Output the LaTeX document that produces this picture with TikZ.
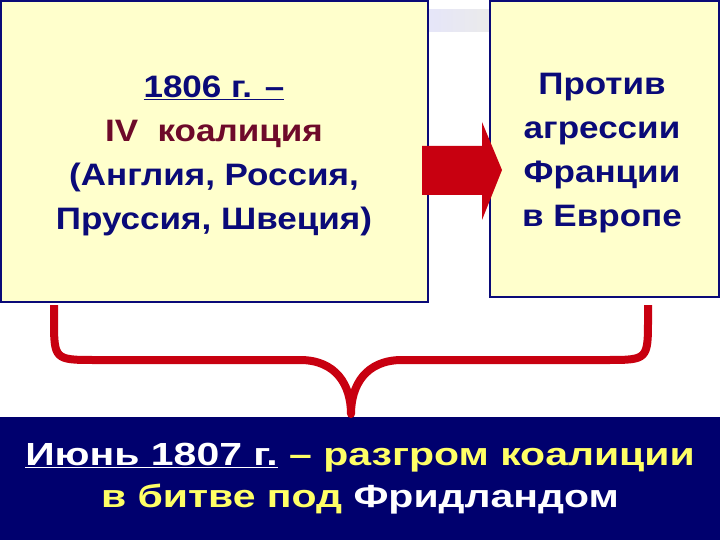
\documentclass[tikz,border=0pt]{standalone}
\usepackage{fontspec}
\setmainfont{Liberation Sans}
\newfontfamily\boxfont[FakeStretch=1.13]{Liberation Sans}
\newfontfamily\bandfont[FakeStretch=1.28]{Liberation Sans}
\definecolor{boxfill}{HTML}{FFFFCC}
\definecolor{navy}{HTML}{0A0A78}
\definecolor{maroon}{HTML}{6E0A2A}
\definecolor{bandblue}{HTML}{00006E}
\definecolor{brred}{HTML}{C80010}
\definecolor{yel}{HTML}{FFFF66}
\tikzset{
  panel/.style={draw=navy, line width=1.6pt, fill=boxfill},
  boxtext/.style={align=center, text=navy, font=\boxfont\bfseries\fontsize{31}{44}\selectfont, inner sep=0pt},
  bandtext/.style={align=center, font=\bandfont\bfseries\fontsize{32}{42}\selectfont, inner sep=0pt},
}
\begin{document}
\begin{tikzpicture}[x=1pt,y=-1pt]
\useasboundingbox (0,0) rectangle (720,540);
\fill[white] (0,0) rectangle (720,540);
% gray bar
\shade[left color=black!25!blue!10, right color=black!8] (429,10) rectangle (489,32);
% boxes
\draw[panel] (1,1) rectangle (428,302);
\draw[panel] (490,1) rectangle (719,297);
\node[boxtext] (ltext) at (214,156) {\underline{1806 г. –}\\{\color{maroon}IV\ \ коалиция}\\(Англия, Россия,\\Пруссия, Швеция)};
\node[boxtext] (rtext) at (602,153) {Против\\агрессии\\Франции\\в Европе};
% arrow
\fill[brred] (422,146) -- (482,146) -- (482,122) -- (502,170) -- (482,220) -- (482,195) -- (422,195) -- cycle;
% bottom band
\fill[bandblue] (0,417) rectangle (720,540);
\node[bandtext] (btext) at (360,479) {{\color{white}\underline{Июнь 1807 г.}} {\color{yel}– разгром коалиции}\\{\color{yel}в битве под} {\color{white}Фридландом}};
% brace
\coordinate (bl) at (54,305);
\coordinate (br) at (648,305);
\coordinate (tip) at (351,414);
\draw[brred, line width=8pt, line join=round]
  (bl) -- (54,318) .. controls (54,360) .. (96,360) -- (300,360)
  .. controls (336,360) and (351,385) .. (tip)
  .. controls (351,385) and (366,360) .. (402,360) -- (606,360)
  .. controls (648,360) .. (648,318) -- (br);
\end{tikzpicture}
\end{document}
